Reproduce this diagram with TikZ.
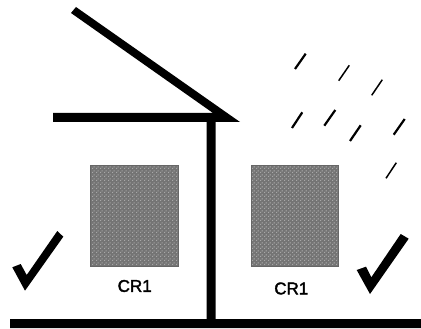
\documentclass[tikz,border=0pt]{standalone}
\usepackage{fontspec}
\setmainfont{Liberation Sans}
\newfontfamily\crfont[FakeBold=2]{Liberation Sans}
\usetikzlibrary{patterns}
\pgfdeclarepatternformonly{ditherdots}{\pgfpointorigin}{\pgfpoint{4pt}{4pt}}{\pgfpoint{4pt}{4pt}}{%
  \pgfpathrectangle{\pgfpoint{0pt}{0pt}}{\pgfpoint{1.4pt}{1.4pt}}%
  \pgfpathrectangle{\pgfpoint{2pt}{2pt}}{\pgfpoint{1.4pt}{1.4pt}}%
  \pgfusepath{fill}}
\definecolor{boxfill}{HTML}{747474}
\definecolor{boxdot}{HTML}{A8A8A8}
\definecolor{boxedge}{HTML}{666666}
\tikzset{
  ink/.style={fill=black,draw=none},
  crbox/.style={fill=boxfill,draw=boxedge,line width=0.8pt},
  crdots/.style={pattern=ditherdots,pattern color=boxdot,draw=none},
  rainthick/.style={draw=black,line width=2.2pt},
  rainthin/.style={draw=black,line width=1.5pt},
  crlabel/.style={inner sep=0pt,font=\crfont\fontsize{17}{17}\selectfont,text=black}
}
\begin{document}
\begin{tikzpicture}[x=1pt,y=-1pt]
\useasboundingbox (0,0) rectangle (421,329);
% roof, eave, wall, floor
\fill[ink] (76,7) -- (71,13) -- (213,113) -- (53,113) -- (53,122) -- (206.5,122) -- (206.5,319) -- (10,319) -- (10,328) -- (421,328) -- (421,319) -- (215.5,319) -- (215.5,122) -- (240,122) -- cycle;
% boxes
\draw[crbox] (90.5,165) rectangle (178.5,266);
\fill[crdots] (91,165.5) rectangle (178,265.5);
\draw[crbox] (251.5,165) rectangle (338.5,266);
\fill[crdots] (252,165.5) rectangle (338,265.5);
% labels
\node[crlabel] (labelA) at (134.7,286) {CR1};
\node[crlabel] (labelB) at (291.3,288.5) {CR1};
% ticks
\fill[ink] (12.3,267.3) -- (20.7,264) -- (26.7,275) -- (57.3,231) -- (63.3,236.7) -- (25,290.7) -- cycle;
\fill[ink] (356.7,270) -- (366,266.7) -- (371.3,277.3) -- (400.7,234) -- (408.7,238.7) -- (370,294) -- cycle;
% rain
\draw[rainthick] (305.7,53.7) -- (295,69);
\draw[rainthin] (349.3,65.3) -- (338.7,80.7);
\draw[rainthin] (382.3,79.7) -- (371.7,95.3);
\draw[rainthick] (302.3,112.3) -- (292,128);
\draw[rainthick] (335.3,110) -- (324.3,125.7);
\draw[rainthick] (360.7,125.3) -- (350,141);
\draw[rainthick] (404.7,119) -- (393.7,134.7);
\draw[rainthin] (396.3,162.7) -- (386,178.3);
\end{tikzpicture}
\end{document}
